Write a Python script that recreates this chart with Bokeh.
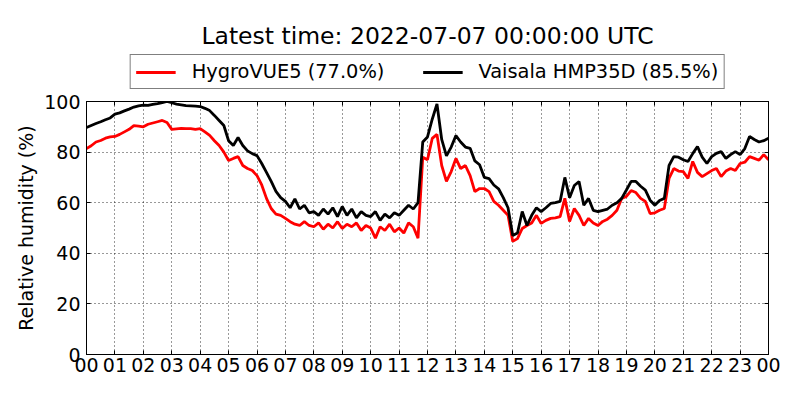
from bokeh.plotting import figure
from bokeh.models import Range1d, FixedTicker, Legend, LegendItem, LinearAxis, Label
from bokeh.layouts import column
from bokeh.embed import file_html
from bokeh.resources import INLINE

# time in hours, 10-minute steps from 00:00 to 24:00
hours = [i / 6 for i in range(145)]
hour_ticks = list(range(25))
hour_labels = ["%02d" % (h % 24) for h in hour_ticks]
y_ticks = [0, 20, 40, 60, 80, 100]

hygrovue5 = [
    81.4, 82.5, 84.0, 84.6, 85.5, 86.0,
    86.2, 87.0, 88.0, 89.0, 90.5, 90.3,
    90.0, 91.0, 91.5, 92.0, 92.5, 91.7,
    89.0, 89.2, 89.4, 89.3, 89.3, 89.0,
    89.3, 88.0, 86.6, 84.5, 82.6, 80.0,
    76.7, 77.5, 78.2, 74.7, 73.5, 72.7,
    70.7, 67.0, 61.7, 57.7, 55.5, 55.0,
    53.8, 52.5, 51.5, 51.0, 52.5, 51.0,
    50.5, 52.0, 49.5, 51.5, 50.0, 52.5,
    49.8, 51.5, 50.5, 52.0, 49.0, 51.0,
    50.0, 46.0, 50.5, 49.0, 51.5, 48.5,
    50.0, 48.0, 52.0, 50.5, 46.0, 78.0,
    77.0, 85.4, 87.0, 74.7, 68.4, 72.3,
    77.5, 73.5, 74.7, 70.7, 64.4, 65.6,
    65.6, 64.4, 60.5, 59.0, 57.0, 55.0,
    44.7, 45.8, 49.8, 51.0, 52.0, 55.0,
    51.8, 53.0, 53.8, 54.0, 54.5, 61.7,
    52.6, 57.7, 55.0, 51.0, 53.8, 52.0,
    51.0, 52.6, 53.5, 55.0, 57.0, 61.7,
    62.5, 64.8, 64.0, 61.7, 60.5, 55.7,
    56.0, 57.0, 57.7, 69.6, 73.5, 72.5,
    72.3, 69.6, 76.3, 72.0, 70.3, 71.5,
    72.7, 73.5, 70.3, 72.5, 73.5, 72.7,
    75.5, 76.0, 78.2, 77.5, 76.8, 79.0,
    77.0,
]

hmp35d = [
    89.7, 90.5, 91.3, 92.0, 92.8, 93.5,
    95.0, 95.5, 96.3, 97.0, 97.8, 98.3,
    98.6, 98.5, 98.9, 99.2, 99.6, 100.0,
    99.5, 99.0, 98.7, 98.4, 98.3, 98.2,
    98.0, 97.3, 96.4, 94.5, 92.5, 90.5,
    84.5, 82.6, 85.8, 82.6, 80.5, 79.4,
    78.6, 75.5, 72.0, 68.4, 64.5, 62.0,
    60.5, 58.0, 61.5, 57.5, 59.0, 56.0,
    56.5, 55.0, 57.5, 55.5, 58.0, 54.5,
    58.5, 55.0, 57.5, 54.0, 56.5, 55.0,
    54.5, 56.5, 53.0, 55.5, 54.0, 56.0,
    55.0, 57.0, 59.0, 57.5, 60.0, 84.0,
    86.0, 93.0, 99.0, 85.0, 78.5, 82.0,
    86.5, 84.0, 82.0, 81.5, 76.5, 75.0,
    70.0, 69.5, 67.0, 65.5, 62.0, 58.0,
    47.0, 48.0, 56.5, 51.0, 55.0, 58.0,
    56.5, 58.0, 59.7, 60.0, 60.5, 70.0,
    62.0, 66.8, 68.4, 59.0, 61.7, 57.0,
    56.5, 57.0, 57.5, 59.0, 60.0, 61.7,
    65.0, 68.4, 68.4, 66.5, 65.0, 61.0,
    59.0, 60.9, 61.7, 74.7, 78.2, 78.0,
    77.0, 76.3, 79.4, 82.2, 78.0, 75.5,
    78.2, 79.5, 80.2, 77.5, 79.0, 80.2,
    79.0, 81.4, 86.2, 85.0, 84.0, 84.5,
    85.5,
]

latest_red = "HygroVUE5 (77.0%)"
latest_black = "Vaisala HMP35D (85.5%)"
title_text = "Latest time: 2022-07-07 00:00:00 UTC"

FONT = "DejaVu Sans"
AX_FS = "19px"
LW = 2.8

# ---- header: title + legend (series drawn below the visible y window) ----
top = figure(width=800, height=90, output_backend="svg", toolbar_location=None,
             x_range=Range1d(0, 24), y_range=Range1d(200, 290),
             x_axis_type=None, y_axis_type=None,
             min_border_left=86, min_border_right=32, min_border_top=0,
             min_border_bottom=0)
top.outline_line_color = None
top.grid.visible = False
top.background_fill_color = "white"
top.border_fill_color = "white"

top.add_layout(Label(x=12, y=255, text=title_text, text_align="center",
                     text_baseline="alphabetic", text_font=FONT,
                     text_font_size="23.5px", text_color="black"))

lr1 = top.line(hours, hygrovue5, line_color="red", line_width=LW)
lr2 = top.line(hours, hmp35d, line_color="black", line_width=LW)
legend = Legend(items=[LegendItem(label=latest_red, renderers=[lr1]),
                       LegendItem(label=latest_black, renderers=[lr2])],
                orientation="horizontal", location="bottom_center",
                label_text_font=FONT, label_text_font_size="19.4px",
                label_text_color="black",
                glyph_width=40, glyph_height=20, label_height=20,
                label_standoff=16, spacing=38, padding=5, margin=1,
                border_line_color="black", border_line_width=1,
                background_fill_alpha=1.0)
top.add_layout(legend)

# ---- main plot ----
p = figure(width=800, height=310, output_backend="svg", toolbar_location=None,
           x_range=Range1d(0, 24), y_range=Range1d(0, 100),
           min_border_left=86, min_border_right=32, min_border_top=11,
           min_border_bottom=46)

p.line(hours, hygrovue5, line_color="red", line_width=LW)
p.line(hours, hmp35d, line_color="black", line_width=LW)

for ax in (p.xaxis[0], p.yaxis[0]):
    ax.major_label_text_font = FONT
    ax.major_label_text_font_size = AX_FS
    ax.major_label_text_color = "black"
    ax.major_tick_in = 4
    ax.major_tick_out = 0
    ax.minor_tick_in = 0
    ax.minor_tick_out = 0
    ax.axis_line_color = "black"
    ax.major_tick_line_color = "black"

p.xaxis.ticker = FixedTicker(ticks=hour_ticks)
p.xaxis.major_label_overrides = {h: lab for h, lab in zip(hour_ticks, hour_labels)}
p.xaxis.major_label_standoff = 3
p.yaxis.ticker = FixedTicker(ticks=y_ticks)
p.yaxis.major_label_standoff = 6
p.yaxis.axis_label = "Relative humidity (%)"
p.yaxis.axis_label_text_font = FONT
p.yaxis.axis_label_text_font_size = AX_FS
p.yaxis.axis_label_text_font_style = "normal"
p.yaxis.axis_label_text_color = "black"
p.yaxis.axis_label_standoff = 4

right = LinearAxis(ticker=FixedTicker(ticks=y_ticks),
                   major_label_overrides={t: "" for t in y_ticks},
                   major_label_text_font_size="1px",
                   major_tick_in=4, major_tick_out=0, minor_tick_in=0, minor_tick_out=0,
                   major_label_standoff=0, axis_line_color="black",
                   major_tick_line_color="black")
p.add_layout(right, "right")

topax = LinearAxis(ticker=FixedTicker(ticks=hour_ticks),
                   major_label_overrides={t: "" for t in hour_ticks},
                   major_label_text_font_size="1px",
                   major_tick_in=4, major_tick_out=0, minor_tick_in=0, minor_tick_out=0,
                   major_label_standoff=0, axis_line_color="black",
                   major_tick_line_color="black")
p.add_layout(topax, "above")

p.grid.grid_line_color = "black"
p.grid.grid_line_dash = "1 3"
p.grid.grid_line_width = 1
p.grid.grid_line_alpha = 0.8
p.xgrid.ticker = FixedTicker(ticks=hour_ticks)
p.ygrid.ticker = FixedTicker(ticks=y_ticks)

p.outline_line_color = "black"
p.outline_line_width = 1
p.background_fill_color = "white"
p.border_fill_color = "white"

layout = column(top, p, spacing=0)
open("out.html", "w").write(file_html(layout, INLINE))
